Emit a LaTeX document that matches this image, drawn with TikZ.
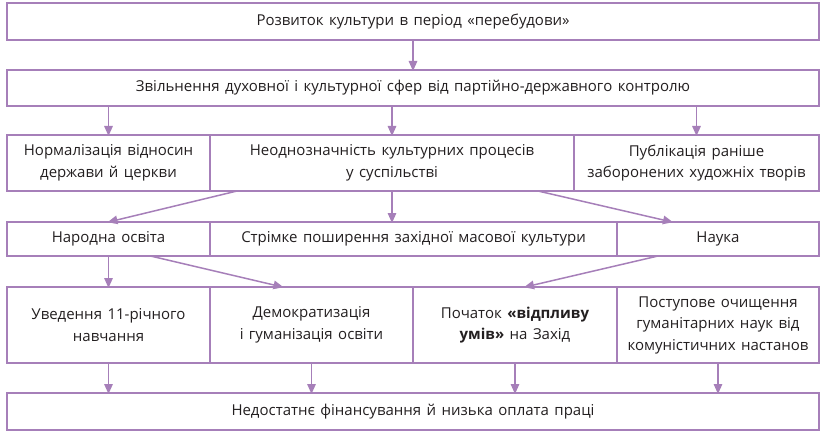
\documentclass[tikz,border=0pt]{standalone}
\usepackage{fontspec}
\setmainfont{Open Sans}[WordSpace=1.4]
\usetikzlibrary{arrows.meta,positioning,calc}
\definecolor{vio}{HTML}{A67FB9}
\definecolor{txt}{HTML}{231F20}
\begin{document}
\begin{tikzpicture}[x=1pt,y=-1pt,
  box/.style={draw=vio,line width=1.6pt,anchor=north west,inner sep=0pt,outer sep=0pt,
    align=center,text=txt,font=\fontsize{15}{21.5}\selectfont},
  arr/.style={draw=vio,line width=1.5pt,-{Triangle[length=10pt,width=8.5pt]},shorten >=-1pt}]
\useasboundingbox (0,0) rectangle (825,433);
% row 1
\node[box,minimum width=812pt,minimum height=37pt] (t) at (7,3) {Розвиток культури в період «перебудови»};
% row 2
\node[box,minimum width=812pt,minimum height=36pt] (z) at (7,70) {Звільнення духовної і культурної сфер від партійно-державного контролю};
% row 3
\node[box,minimum width=203pt,minimum height=56pt] (n1) at (7,135) {Нормалізація відносин\\держави й церкви};
\node[box,minimum width=364pt,minimum height=56pt] (n2) at (210,135) {Неоднозначність культурних процесів\\у суспільстві};
\node[box,minimum width=245pt,minimum height=56pt] (n3) at (574,135) {Публікація раніше\\заборонених художніх творів};
% row 4
\node[box,minimum width=203pt,minimum height=34pt] (no) at (7,222) {Народна освіта};
\node[box,minimum width=407pt,minimum height=34pt] (st) at (210,222) {Стрімке поширення західної масової культури};
\node[box,minimum width=202pt,minimum height=34pt] (na) at (617,222) {Наука};
% row 5
\node[box,minimum width=203pt,minimum height=76pt] (u1) at (7,287) {Уведення 11-річного\\навчання};
\node[box,minimum width=203pt,minimum height=76pt] (d) at (210,287) {Демократизація\\і гуманізація освіти};
\node[box,minimum width=204pt,minimum height=76pt] (p) at (413,287) {Початок \textbf{«відпливу}\\\textbf{умів»} на Захід};
\node[box,minimum width=202pt,minimum height=76pt] (o) at (617,287) {Поступове очищення\\гуманітарних наук від\\комуністичних настанов};
% row 6
\node[box,minimum width=812pt,minimum height=37pt] (f) at (7,393) {Недостатнє фінансування й низька оплата праці};
% arrows
\draw[arr] (t.south) -- (z.north);
\draw[arr] (z.south -| n1.north) -- (n1.north);
\draw[arr] (z.south -| n2.north) -- (n2.north);
\draw[arr] (z.south -| n3.north) -- (n3.north);
\draw[arr] ([xshift=27pt]n2.south west) -- (no.north);
\draw[arr] (n2.south) -- (n2.south |- st.north);
\draw[arr] ([xshift=-36pt]n2.south east) -- ([xshift=-46pt]na.north);
\draw[arr] (no.south) -- (u1.north);
\draw[arr] ([xshift=42pt]no.south) -- ([xshift=-29pt]d.north);
\draw[arr] ([xshift=-60pt]na.south) -- ([xshift=10pt]p.north);
\draw[arr] (u1.south) -- (u1.south |- f.north);
\draw[arr] (d.south) -- (d.south |- f.north);
\draw[arr] (p.south) -- (p.south |- f.north);
\draw[arr] (o.south) -- (o.south |- f.north);
\end{tikzpicture}
\end{document}
